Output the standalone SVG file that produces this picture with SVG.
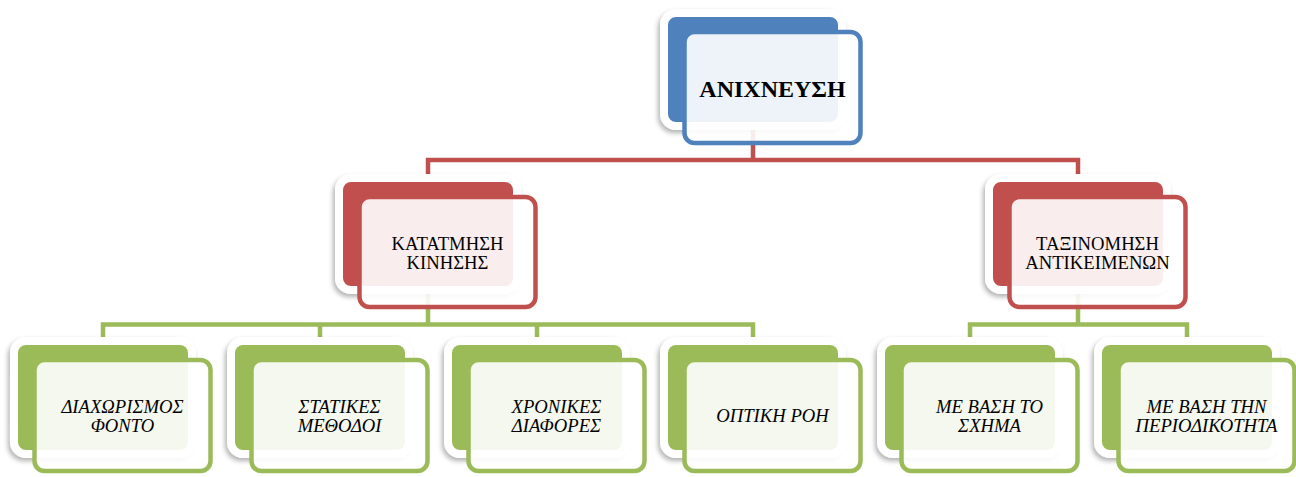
<svg xmlns="http://www.w3.org/2000/svg" width="1296" height="477" viewBox="0 0 1296 477">
<defs>
<filter id="sh" x="-10%" y="-10%" width="120%" height="130%">
<feDropShadow dx="-2" dy="3" stdDeviation="2.5" flood-color="#000" flood-opacity="0.3"/>
</filter>
<style>
.back{stroke:#fff;stroke-width:8;filter:url(#sh)}
.front{fill:#fff;fill-opacity:0.9;stroke-width:4.5}
.blue .back{fill:#4F81BD}.blue .front{stroke:#4F81BD}
.red .back{fill:#C0504D}.red .front{stroke:#C0504D}
.green .back{fill:#9BBB59}.green .front{stroke:#9BBB59}
text{font-family:"Liberation Serif","Times New Roman",serif;font-size:18.67px;fill:#000;text-anchor:middle}
.top text{font-size:24px;font-weight:bold}
.green text{font-style:italic}
.conn{fill:none;stroke-width:4.5;stroke-linecap:butt;stroke-linejoin:miter}
</style>
</defs>
<rect width="1296" height="477" fill="#fff"/>
<g id="connectors">
<path class="conn" stroke="#C0504D" d="M753,125 V160 M428,185 V160 H1078 V185"/>
<path class="conn" stroke="#9BBB59" d="M428,288 V324.5 M103,345 V324.5 H753 V345 M320,324.5 V345 M537,324.5 V345"/>
<path class="conn" stroke="#9BBB59" d="M1078,288 V324.5 M970,345 V324.5 H1187 V345"/>
</g>
<g id="n-anixneusi" class="blue top">
<rect class="back" x="664" y="13" width="178" height="113" rx="12"/>
<rect class="front" x="684.5" y="32" width="176" height="111" rx="10"/>
<text x="772.5" y="96.5">ΑΝΙΧΝΕΥΣΗ</text>
</g>
<g id="n-katatmisi" class="red">
<rect class="back" x="339" y="178" width="178" height="112" rx="12"/>
<rect class="front" x="359.5" y="197" width="176" height="110" rx="10"/>
<text x="447.5" y="250">ΚΑΤΑΤΜΗΣΗ</text>
<text x="447.5" y="268.5">ΚΙΝΗΣΗΣ</text>
</g>
<g id="n-taxinomisi" class="red">
<rect class="back" x="989" y="178" width="178" height="112" rx="12"/>
<rect class="front" x="1009.5" y="197" width="176" height="110" rx="10"/>
<text x="1097.5" y="250">ΤΑΞΙΝΟΜΗΣΗ</text>
<text x="1097.5" y="268.5">ΑΝΤΙΚΕΙΜΕΝΩΝ</text>
</g>
<g id="n-diaxorismos" class="green">
<rect class="back" x="14" y="341" width="178" height="113" rx="12"/>
<rect class="front" x="34.5" y="360" width="176" height="111" rx="10"/>
<text x="122.5" y="413.3">ΔΙΑΧΩΡΙΣΜΟΣ</text>
<text x="122.5" y="432.3">ΦΟΝΤΟ</text>
</g>
<g id="n-statikes" class="green">
<rect class="back" x="231" y="341" width="178" height="113" rx="12"/>
<rect class="front" x="251.5" y="360" width="176" height="111" rx="10"/>
<text x="339.5" y="413.3">ΣΤΑΤΙΚΕΣ</text>
<text x="339.5" y="432.3">ΜΕΘΟΔΟΙ</text>
</g>
<g id="n-xronikes" class="green">
<rect class="back" x="448" y="341" width="178" height="113" rx="12"/>
<rect class="front" x="468.5" y="360" width="176" height="111" rx="10"/>
<text x="556.5" y="413.3">ΧΡΟΝΙΚΕΣ</text>
<text x="556.5" y="432.3">ΔΙΑΦΟΡΕΣ</text>
</g>
<g id="n-optiki" class="green">
<rect class="back" x="664" y="341" width="178" height="113" rx="12"/>
<rect class="front" x="684.5" y="360" width="176" height="111" rx="10"/>
<text x="772.5" y="421.7">ΟΠΤΙΚΗ ΡΟΗ</text>
</g>
<g id="n-sxima" class="green">
<rect class="back" x="881" y="341" width="178" height="113" rx="12"/>
<rect class="front" x="901.5" y="360" width="176" height="111" rx="10"/>
<text x="989.5" y="413.3">ΜΕ ΒΑΣΗ ΤΟ</text>
<text x="989.5" y="432.3">ΣΧΗΜΑ</text>
</g>
<g id="n-periodikotita" class="green">
<rect class="back" x="1098" y="341" width="178" height="113" rx="12"/>
<rect class="front" x="1118.5" y="360" width="176" height="111" rx="10"/>
<text x="1206.5" y="413.3">ΜΕ ΒΑΣΗ ΤΗΝ</text>
<text x="1206.5" y="432.3">ΠΕΡΙΟΔΙΚΟΤΗΤΑ</text>
</g>
</svg>
